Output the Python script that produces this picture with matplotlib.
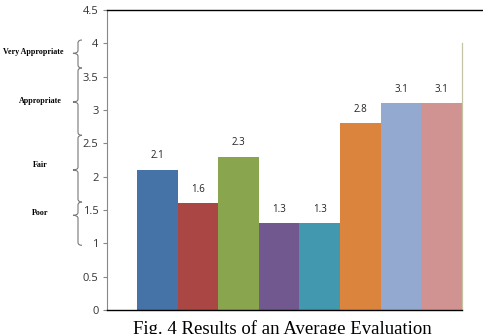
import matplotlib
matplotlib.use("Agg")
import matplotlib.pyplot as plt
from matplotlib.path import Path
from matplotlib.patches import PathPatch
import numpy as np

values = [2.1, 1.6, 2.3, 1.3, 1.3, 2.8, 3.1, 3.1]
colors = ["#4572A7", "#AA4643", "#89A54E", "#71588F", "#4198AF", "#DB843D", "#93A9CF", "#D19392"]
yticks = [0, 0.5, 1, 1.5, 2, 2.5, 3, 3.5, 4, 4.5]
ytick_labels = ["0", "0.5", "1", "1.5", "2", "2.5", "3", "3.5", "4", "4.5"]
scale_labels = ["Very Appropriate", "Appropriate", "Fair", "Poor"]
scale_ranges = [(4.05, 3.63), (3.63, 2.62), (2.62, 1.62), (1.62, 0.97)]
scale_tips = [3.85, 3.12, 2.1, 1.42]

W, H = 483, 334
fig = plt.figure(figsize=(W / 100, H / 100), dpi=100)
ax = fig.add_axes([107 / W, 24 / H, 376 / W, 300 / H])

x = np.arange(len(values))
ax.bar(x, values, width=1.0, color=colors, edgecolor="none")
for xi, v in zip(x, values):
    ax.text(xi, v + 0.13, f"{v}", ha="center", va="bottom", fontsize=7, family="Open Sans", color="#222222")

ax.set_xlim(-1.24, 8.02)
ax.set_ylim(0, 4.5)
ax.set_yticks(yticks)
ax.set_yticklabels(ytick_labels, family="Open Sans", fontsize=8, color="#333333")
ax.set_xticks([])
ax.tick_params(axis="y", length=3, width=0.8, color="#888888", pad=3)

ax.spines["right"].set_visible(False)
ax.spines["left"].set_color("#888888")
ax.spines["left"].set_linewidth(0.8)
ax.spines["top"].set_color("black")
ax.spines["top"].set_linewidth(1.0)
ax.spines["bottom"].set_color("black")
ax.spines["bottom"].set_linewidth(1.0)
ax.spines["bottom"].set_bounds(-1.24, 7.5)
ax.plot([7.5, 7.5], [0, 4.0], color="#c4c4a4", lw=0.9, clip_on=False)

def ypix(v):
    return 310 - v * (300 / 4.5)

def brace(y0, y1, ytip, xline=78, xtip=73, xend=82):
    a, b = ypix(y0), ypix(y1)
    t = ypix(ytip)
    pts = [
        (xend, a), (xline, a), (xline, a + 3),
        (xline, t - 3), (xline, t), (xtip, t),
        (xline, t), (xline, t + 3),
        (xline, b - 3), (xline, b), (xend, b),
    ]
    codes = [Path.MOVETO, Path.CURVE3, Path.CURVE3,
             Path.LINETO, Path.CURVE3, Path.CURVE3,
             Path.CURVE3, Path.CURVE3,
             Path.LINETO, Path.CURVE3, Path.CURVE3]
    pts = [(px / W, 1 - py / H) for px, py in pts]
    p = PathPatch(Path(pts, codes), transform=fig.transFigure, fill=False,
                  edgecolor="#777777", lw=0.8)
    fig.add_artist(p)

label_x = [33, 40, 40, 40]
label_y = [52, 101, 165, 213]
for (y0, y1), tip, lab, lx, ly in zip(scale_ranges, scale_tips, scale_labels, label_x, label_y):
    brace(y0, y1, tip)
    fig.text(lx / W, 1 - ly / H, lab, ha="center", va="center", fontsize=5.8,
             family="Liberation Serif", weight="bold")

fig.text(133 / W, 1 - 320 / H, "Fig. 4 Results of an Average Evaluation", ha="left", va="top",
         fontsize=13.5, family="Liberation Serif")

fig.savefig("out.png", dpi=100)
